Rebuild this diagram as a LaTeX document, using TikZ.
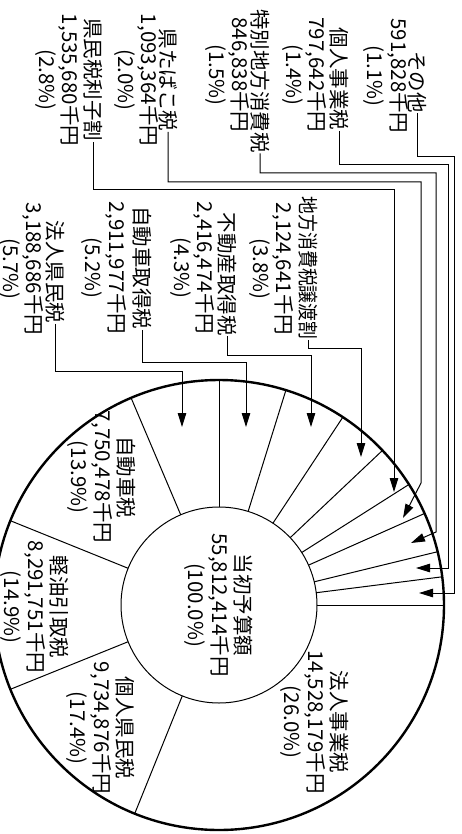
\documentclass[tikz,border=0pt]{standalone}
\usepackage{fontspec}
\setmainfont{Noto Sans CJK JP}
\usetikzlibrary{arrows.meta}
\begin{document}
\begin{tikzpicture}[x=1pt,y=-1pt,
  lbl/.style={font=\fontsize{20.5}{23.5}\selectfont, rotate=-90, inner sep=0.5pt, align=center},
  conn/.style={line width=1pt, -{Triangle[length=14pt,width=8.5pt]}},
  ring/.style={line width=2.4pt},
  thinline/.style={line width=1pt}]
\useasboundingbox (0,0) rectangle (462,834);
\coordinate (c) at (219,605);
\begin{scope}[shift={(c)}]
\foreach \a in {0,112,158,202,247,270,287.3,303.4,316.6,327.6,336,346.3,352.8}
  \draw[thinline] (\a:98) -- (\a:225);
\end{scope}
\draw[thinline] (c) circle (98);
\draw[ring] (c) circle (225);

\node[lbl] (tot) at (c) {当初予算額\\55,812,414千円\\(100.0\%)};
\node[lbl] (s1) at (315,722) {法人事業税\\14,528,179千円\\(26.0\%)};
\node[lbl] (s2) at (101,728) {個人県民税\\9,734,876千円\\(17.4\%)};
\node[lbl] (s3) at (35,607) {軽油引取税\\8,291,751千円\\(14.9\%)};
\node[lbl] (s4) at (102,477) {自動車税\\7,750,478千円\\(13.9\%)};

\node[lbl] (n13) at (417,82) {その他};
\node[lbl] (v13) at (386,76) {591,828千円\\(1.1\%)};
\node[lbl] (n12) at (339,79) {個人事業税};
\node[lbl] (v12) at (304.5,75) {797,642千円\\(1.4\%)};
\node[lbl] (n11) at (260,81) {特別地方消費税};
\node[lbl] (v11) at (227.5,75) {846,838千円\\(1.5\%)};
\node[lbl] (n10) at (168,80) {県たばこ税};
\node[lbl] (v10) at (136.5,80) {1,093,364千円\\(2.0\%)};
\node[lbl] (n9) at (93,80) {県民税利子割};
\node[lbl] (v9) at (57.5,80) {1,535,680千円\\(2.8\%)};
\node[lbl] (n8) at (308,268) {\scalebox{0.87}[1]{地方消費税譲渡割}};
\node[lbl] (v8) at (271.5,269) {2,124,641千円\\(3.8\%)};
\node[lbl] (n7) at (227,274) {不動産取得税};
\node[lbl] (v7) at (192.5,268) {2,416,474千円\\(4.3\%)};
\node[lbl] (n6) at (142,268) {自動車取得税};
\node[lbl] (v6) at (104,268) {2,911,977千円\\(5.2\%)};
\node[lbl] (n5) at (55,272) {法人県民税};
\node[lbl] (v5) at (21.5,269) {3,188,686千円\\(5.7\%)};

\coordinate (t13) at (419,593);
\coordinate (t12) at (416,568);
\coordinate (t11) at (411,543);
\coordinate (t10) at (403,518);
\coordinate (t9) at (394,492);
\coordinate (t8) at (361,457);
\coordinate (t7) at (311,427);
\coordinate (t6) at (246,427);
\coordinate (t5) at (182,427);

\draw[conn] (n13.east) |- (454,157) |- (t13);
\draw[conn] (n12.east) |- (448,165) |- (t12);
\draw[conn] (n11.east) |- (436,173) -- (436,532) -- (t11);
\draw[conn] (n10.east) |- (421,182) -- (421,483) -- (t10);
\draw[conn] (n9.east) |- (394,190) -- (t9);
\draw[conn] (n8.east) |- (361,348) -- (t8);
\draw[conn] (n7.east) |- (311,355) -- (t7);
\draw[conn] (n6.east) |- (246,362) -- (t6);
\draw[conn] (n5.east) |- (182,371) -- (t5);
\end{tikzpicture}
\end{document}
